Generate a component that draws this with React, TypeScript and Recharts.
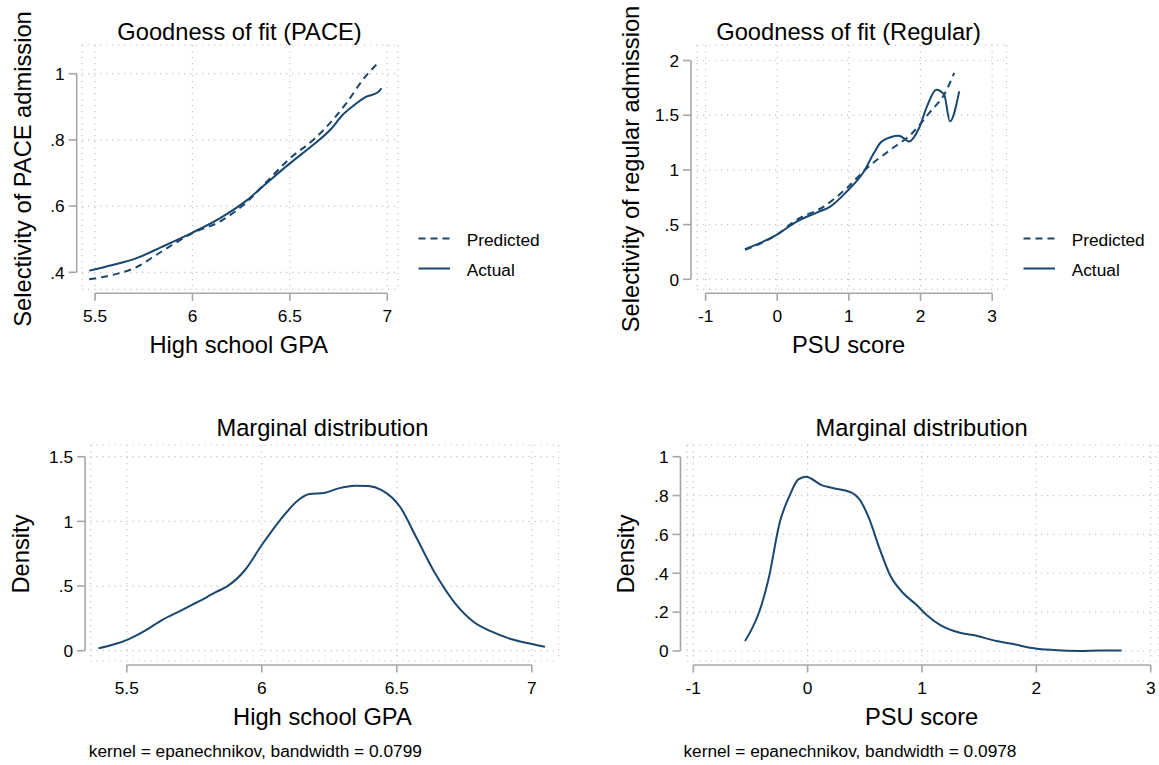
import React from 'react';
import { LineChart, Line, XAxis, YAxis, CartesianGrid, ReferenceLine, Legend } from 'recharts';

// values
const paceActualGpa = [5.47, 5.59, 5.71, 5.84, 6.0, 6.14, 6.28, 6.38, 6.5, 6.62, 6.71, 6.77, 6.83, 6.89, 6.95, 6.97];
const paceActualSel = [0.405, 0.422, 0.442, 0.476, 0.52, 0.563, 0.618, 0.669, 0.729, 0.785, 0.832, 0.875, 0.905, 0.93, 0.943, 0.956];
const pacePredGpa = [5.47, 5.59, 5.71, 5.84, 6.0, 6.14, 6.28, 6.38, 6.5, 6.62, 6.72, 6.79, 6.88, 6.95];
const pacePredSel = [0.379, 0.392, 0.415, 0.462, 0.518, 0.553, 0.613, 0.673, 0.744, 0.8, 0.86, 0.911, 0.986, 1.031];

const regActualPsu = [-0.45, -0.01, 0.27, 0.55, 0.74, 0.97, 1.21, 1.35, 1.46, 1.7, 1.84, 1.98, 2.09, 2.22, 2.33, 2.41, 2.54];
const regActualSel = [0.275, 0.406, 0.527, 0.61, 0.665, 0.802, 0.985, 1.154, 1.26, 1.312, 1.26, 1.383, 1.58, 1.733, 1.688, 1.443, 1.718];
const regPredPsu = [-0.45, -0.01, 0.27, 0.65, 0.97, 1.25, 1.58, 1.86, 2.14, 2.33, 2.47];
const regPredSel = [0.27, 0.406, 0.543, 0.665, 0.833, 1.016, 1.184, 1.321, 1.535, 1.688, 1.886];

const gpaPoints = [5.395, 5.444, 5.506, 5.568, 5.63, 5.704, 5.765, 5.833, 5.87, 5.938, 6.0, 6.068, 6.136, 6.173, 6.235, 6.284, 6.346, 6.395, 6.444, 6.512, 6.574, 6.642, 6.716, 6.784, 6.852, 6.926, 7.0, 7.049];
const gpaDensity = [0.018, 0.044, 0.088, 0.155, 0.237, 0.314, 0.379, 0.456, 0.495, 0.624, 0.817, 1.01, 1.165, 1.209, 1.222, 1.255, 1.276, 1.273, 1.242, 1.113, 0.869, 0.598, 0.366, 0.224, 0.147, 0.088, 0.052, 0.031];

const psuPoints = [-0.548, -0.49, -0.423, -0.344, -0.242, -0.155, -0.082, -0.015, 0.122, 0.21, 0.385, 0.458, 0.531, 0.633, 0.72, 0.837, 0.953, 1.041, 1.157, 1.332, 1.449, 1.653, 1.799, 1.945, 2.149, 2.382, 2.557, 2.746];
const psuDensity = [0.051, 0.111, 0.202, 0.365, 0.666, 0.803, 0.883, 0.897, 0.854, 0.84, 0.815, 0.777, 0.691, 0.52, 0.391, 0.297, 0.237, 0.185, 0.134, 0.094, 0.082, 0.051, 0.036, 0.017, 0.005, 0.0, 0.002, 0.002];

const gpaTicks = [5.5, 6, 6.5, 7];
const psuTicks = [-1, 0, 1, 2, 3];
const paceSelTicks = [0.4, 0.6, 0.8, 1];
const regSelTicks = [0, 0.5, 1, 1.5, 2];
const gpaDensityTicks = [0, 0.5, 1, 1.5];
const psuDensityTicks = [0, 0.2, 0.4, 0.6, 0.8, 1];

const FONT = '"Liberation Sans", Arial, sans-serif';
const NAVY = '#1a476f';
const AXIS_COLOR = '#a6a6a6';
const AXIS_W = 1.6;
const GRID_COLOR = '#c4c4c4';
const TICK_LEN = 8;
const TICK_FS = 17.3;
const TITLE_FS = 23.7;

const zip = (xs: number[], ys: number[]) => xs.map((x, i) => ({ x, y: ys[i] }));

// Stata drops the leading zero: .5, .8
const fmtTick = (v: number) => {
  const s = String(v);
  return s.startsWith('0.') ? s.slice(1) : s;
};

const YTick = ({ x, y, payload, gap }: any) => {
  const ax = x - gap;
  return (
    <g>
      <line x1={ax - TICK_LEN} x2={ax} y1={y} y2={y} stroke={AXIS_COLOR} strokeWidth={AXIS_W} />
      <text x={ax - TICK_LEN - 4} y={y} dy="0.36em" textAnchor="end" fontSize={TICK_FS} fontFamily={FONT} fill="#000">
        {fmtTick(payload.value)}
      </text>
    </g>
  );
};

const XTick = ({ x, y, payload, gap }: any) => {
  const ay = y + gap;
  return (
    <g>
      <line x1={x} x2={x} y1={ay} y2={ay + TICK_LEN - 0.5} stroke={AXIS_COLOR} strokeWidth={AXIS_W} />
      <text x={x} y={ay + 29} textAnchor="middle" fontSize={TICK_FS} fontFamily={FONT} fill="#000">
        {fmtTick(payload.value)}
      </text>
    </g>
  );
};

const FitLegend = ({ payload }: any) => {
  const order = ['Predicted', 'Actual'];
  const items = [...(payload ?? [])].sort((a, b) => order.indexOf(a.value) - order.indexOf(b.value));
  return (
    <svg width={150} height={70}>
      {items.map((it: any, i: number) => (
        <g key={it.value} transform={`translate(0, ${i * 30})`}>
          <line x1={8.5} x2={40} y1={18.5} y2={18.5} stroke={it.color} strokeWidth={2}
            strokeDasharray={it.payload?.strokeDasharray} />
          <text x={56.7} y={26.2} fontSize={TICK_FS} fontFamily={FONT} fill="#000">{it.value}</text>
        </g>
      ))}
    </svg>
  );
};

type Series = { name: string; data: { x: number; y: number }[]; dash?: string };

type PanelProps = {
  left: number;
  top: number;
  width: number;
  height: number;
  // plot area edges, relative to the panel
  plot: { top: number; right: number; bottom: number; left: number };
  xDomain: [number, number];
  yDomain: [number, number];
  xTicks: number[];
  yTicks: number[];
  yGap: number;
  xGap: number;
  series: Series[];
  legend?: { left: number; top: number };
};

const Panel = (p: PanelProps) => {
  const xEnd = p.xTicks[p.xTicks.length - 1];
  const yEnd = p.yTicks[p.yTicks.length - 1];
  // axes take 1px each; the rest goes to the margin
  const margin = {
    top: p.plot.top,
    right: p.width - p.plot.right,
    bottom: p.height - p.plot.bottom - 1,
    left: p.plot.left - 1,
  };
  return (
    <div style={{ position: 'absolute', left: p.left, top: p.top }}>
      <LineChart width={p.width} height={p.height} margin={margin}>
        <CartesianGrid stroke={GRID_COLOR} strokeWidth={1.2} strokeDasharray="1.2 4.8" />
        <XAxis
          type="number"
          dataKey="x"
          domain={p.xDomain}
          ticks={p.xTicks}
          interval={0}
          allowDataOverflow
          height={1}
          axisLine={false}
          tickLine={false}
          tickSize={0}
          tickMargin={0}
          tick={(t: any) => <XTick {...t} gap={p.xGap} />}
        />
        <YAxis
          type="number"
          domain={p.yDomain}
          ticks={p.yTicks}
          interval={0}
          allowDataOverflow
          width={1}
          axisLine={false}
          tickLine={false}
          tickSize={0}
          tickMargin={0}
          tick={(t: any) => <YTick {...t} gap={p.yGap} />}
        />
        <ReferenceLine
          ifOverflow="visible"
          segment={[{ x: p.xTicks[0], y: p.yDomain[0] }, { x: xEnd, y: p.yDomain[0] }]}
          shape={(s: any) => (
            <line x1={s.x1} x2={s.x2} y1={s.y1 + p.xGap} y2={s.y2 + p.xGap} stroke={AXIS_COLOR} strokeWidth={AXIS_W} />
          )}
        />
        <ReferenceLine
          ifOverflow="visible"
          segment={[{ x: p.xDomain[0], y: p.yTicks[0] }, { x: p.xDomain[0], y: yEnd }]}
          shape={(s: any) => (
            <line x1={s.x1 - p.yGap} x2={s.x2 - p.yGap} y1={s.y1} y2={s.y2} stroke={AXIS_COLOR} strokeWidth={AXIS_W} />
          )}
        />
        {p.series.map((s) => (
          <Line
            key={s.name}
            name={s.name}
            data={s.data}
            dataKey="y"
            type="monotone"
            stroke={NAVY}
            strokeWidth={2}
            strokeDasharray={s.dash}
            dot={false}
            activeDot={false}
            isAnimationActive={false}
          />
        ))}
        {p.legend && (
          <Legend
            layout="vertical"
            align="center"
            verticalAlign="middle"
            wrapperStyle={{ left: p.legend.left, top: p.legend.top, width: 150 }}
            content={(lp: any) => <FitLegend {...lp} />}
          />
        )}
      </LineChart>
    </div>
  );
};

const texts = [
  { x: 239.5, y: 40, t: 'Goodness of fit (PACE)' },
  { x: 848.6, y: 40, t: 'Goodness of fit (Regular)' },
  { x: 238.7, y: 353.3, t: 'High school GPA' },
  { x: 848.6, y: 353.3, t: 'PSU score' },
  { x: 322.4, y: 435.5, t: 'Marginal distribution' },
  { x: 921.6, y: 435.5, t: 'Marginal distribution' },
  { x: 322.4, y: 725, t: 'High school GPA' },
  { x: 921.6, y: 725, t: 'PSU score' },
];

const yTitles = [
  { x: 30.5, y: 169, t: 'Selectivity of PACE admission' },
  { x: 638.5, y: 169, t: 'Selectivity of regular admission' },
  { x: 28.5, y: 554, t: 'Density' },
  { x: 634, y: 554, t: 'Density' },
];

const notes = [
  { x: 88.8, y: 757, t: 'kernel = epanechnikov, bandwidth = 0.0799' },
  { x: 683.4, y: 757, t: 'kernel = epanechnikov, bandwidth = 0.0978' },
];

export default function App() {
  return (
    <div style={{ position: 'absolute', left: 0, top: 0, width: 1159, height: 765, background: '#fff', fontFamily: FONT }}>
      <Panel
        left={0} top={0} width={580} height={370}
        plot={{ top: 45, left: 82, right: 398, bottom: 289.3 }}
        xDomain={[5.433, 7.055]} yDomain={[0.3486, 1.0867]}
        xTicks={gpaTicks} yTicks={paceSelTicks}
        yGap={5.3} xGap={4}
        series={[
          { name: 'Predicted', data: zip(pacePredGpa, pacePredSel), dash: '7 5' },
          { name: 'Actual', data: zip(paceActualGpa, paceActualSel) },
        ]}
        legend={{ left: 410, top: 220 }}
      />
      <Panel
        left={580} top={0} width={579} height={370}
        plot={{ top: 45, left: 117, right: 426.5, bottom: 289.3 }}
        xDomain={[-1.12, 3.2]} yDomain={[-0.0913, 2.1415]}
        xTicks={psuTicks} yTicks={regSelTicks}
        yGap={6} xGap={4}
        series={[
          { name: 'Predicted', data: zip(regPredPsu, regPredSel), dash: '7 5' },
          { name: 'Actual', data: zip(regActualPsu, regActualSel) },
        ]}
        legend={{ left: 435, top: 220 }}
      />
      <Panel
        left={0} top={380} width={580} height={385}
        plot={{ top: 65, left: 90.6, right: 558.5, bottom: 281 }}
        xDomain={[5.366, 7.099]} yDomain={[-0.0796, 1.5905]}
        xTicks={gpaTicks} yTicks={gpaDensityTicks}
        yGap={5.5} xGap={4}
        series={[{ name: 'Density', data: zip(gpaPoints, gpaDensity) }]}
      />
      <Panel
        left={580} top={380} width={579} height={385}
        plot={{ top: 65, left: 107, right: 579, bottom: 281 }}
        xDomain={[-1.055, 3.0726]} yDomain={[-0.0515, 1.0602]}
        xTicks={psuTicks} yTicks={psuDensityTicks}
        yGap={6.5} xGap={4}
        series={[{ name: 'Density', data: zip(psuPoints, psuDensity) }]}
      />
      <svg width={1159} height={765} style={{ position: 'absolute', left: 0, top: 0, pointerEvents: 'none' }}>
        {texts.map((d, i) => (
          <text key={i} x={d.x} y={d.y} textAnchor="middle" fontSize={TITLE_FS} fontFamily={FONT} fill="#000">{d.t}</text>
        ))}
        {yTitles.map((d, i) => (
          <text key={i} x={d.x} y={d.y} textAnchor="middle" fontSize={TITLE_FS} fontFamily={FONT} fill="#000"
            transform={`rotate(-90, ${d.x}, ${d.y})`}>{d.t}</text>
        ))}
        {notes.map((d, i) => (
          <text key={i} x={d.x} y={d.y} fontSize={TICK_FS} fontFamily={FONT} fill="#000">{d.t}</text>
        ))}
      </svg>
    </div>
  );
}
